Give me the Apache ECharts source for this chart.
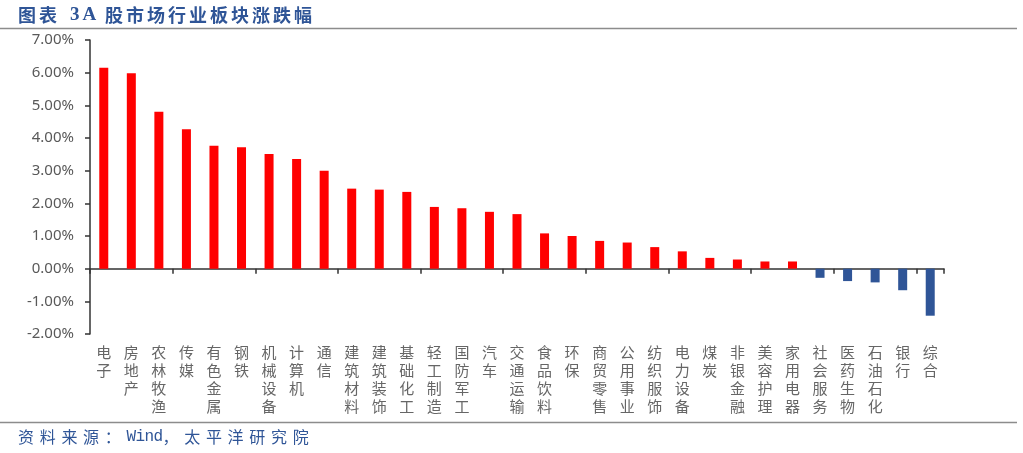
<!DOCTYPE html>
<html><head><meta charset="utf-8">
<script src="https://cdn.jsdelivr.net/npm/echarts@6/dist/echarts.min.js"></script>
<style>html,body{margin:0;padding:0;background:#fff}#c{width:1023px;height:453px}</style>
</head><body><div id="c"></div>
<script>
var categories = ['电子','房地产','农林牧渔','传媒','有色金属','钢铁','机械设备','计算机','通信','建筑材料','建筑装饰','基础化工','轻工制造','国防军工','汽车','交通运输','食品饮料','环保','商贸零售','公用事业','纺织服饰','电力设备','煤炭','非银金融','美容护理','家用电器','社会服务','医药生物','石油石化','银行','综合'];
var values = [6.15,5.98,4.80,4.27,3.76,3.72,3.51,3.36,3.00,2.45,2.42,2.35,1.89,1.85,1.74,1.67,1.08,1.00,0.85,0.80,0.66,0.53,0.33,0.28,0.22,0.22,-0.28,-0.38,-0.42,-0.66,-1.44];
var yTicks = {min:-2, max:7, interval:1};
var title = '图表 3A 股市场行业板块涨跌幅';
var source = '资料来源：Wind，太平洋研究院';

function spaced(str, x0, yc, fullAdv, halfAdv, spaceAdv, font, halfFont, color){
  var els = [], x = x0;
  for (var i = 0; i < str.length; i++){
    var ch = str[i];
    if (ch === ' ') { x += spaceAdv; continue; }
    var half = ch.charCodeAt(0) < 0x2000;
    els.push({type:'text', x:x, y:yc, silent:true,
      style:{text:ch, fill:color, font: half ? halfFont : font, textVerticalAlign:'middle', textAlign:'left'}});
    x += half ? halfAdv : fullAdv;
  }
  return els;
}

var graphics = [
  {type:'line', shape:{x1:0,y1:28.5,x2:1017,y2:28.5}, style:{stroke:'#8c8c8c', lineWidth:1.5}},
  {type:'line', shape:{x1:0,y1:422.5,x2:1017,y2:422.5}, style:{stroke:'#8c8c8c', lineWidth:1.5}}
].concat(
  spaced(title, 18, 15, 21, 12.5, 10, 'bold 18px "Noto Sans CJK SC"', 'bold 19px "Liberation Serif"', '#2F5597'),
  spaced(source, 18, 437, 21.7, 9, 0, '16px "Noto Sans CJK SC"', '16px "Liberation Mono"', '#2F5597')
);

var chart = echarts.init(document.getElementById('c'), null, {renderer:'canvas'});
chart.setOption({
  animation:false,
  backgroundColor:'#fff',
  grid:{left:90,right:79,top:40,bottom:119},
  xAxis:[{
    type:'category', data:categories, position:'bottom',
    axisLine:{onZero:true, lineStyle:{color:'#333',width:1.5}},
    axisTick:{show:true, length:5, lineStyle:{color:'#333',width:1.5}},
    axisLabel:{show:false}
  },{
    type:'category', data:categories, position:'bottom',
    axisLine:{show:false, onZero:false}, axisTick:{show:false},
    axisLabel:{interval:0, margin:9, color:'#666', fontSize:15, lineHeight:18,
      fontFamily:'Noto Sans CJK SC',
      formatter:function(v){return v.split('').join('\n');}}
  }],
  yAxis:{
    type:'value', min:yTicks.min, max:yTicks.max, interval:yTicks.interval,
    axisLine:{show:true, lineStyle:{color:'#333',width:1.5}},
    axisTick:{show:true, length:5, lineStyle:{color:'#333',width:1.5}},
    splitLine:{show:false},
    axisLabel:{color:'#595959', fontSize:15, margin:16, fontFamily:'Noto Sans',
      formatter:function(v){return v.toFixed(2)+'%';}}
  },
  series:[{
    type:'bar', xAxisIndex:0, barWidth:9,
    data:values.map(function(v){return {value:v, itemStyle:{color: v>=0?'#FF0000':'#2F5597'}};})
  }],
  graphic:graphics
});
</script></body></html>
